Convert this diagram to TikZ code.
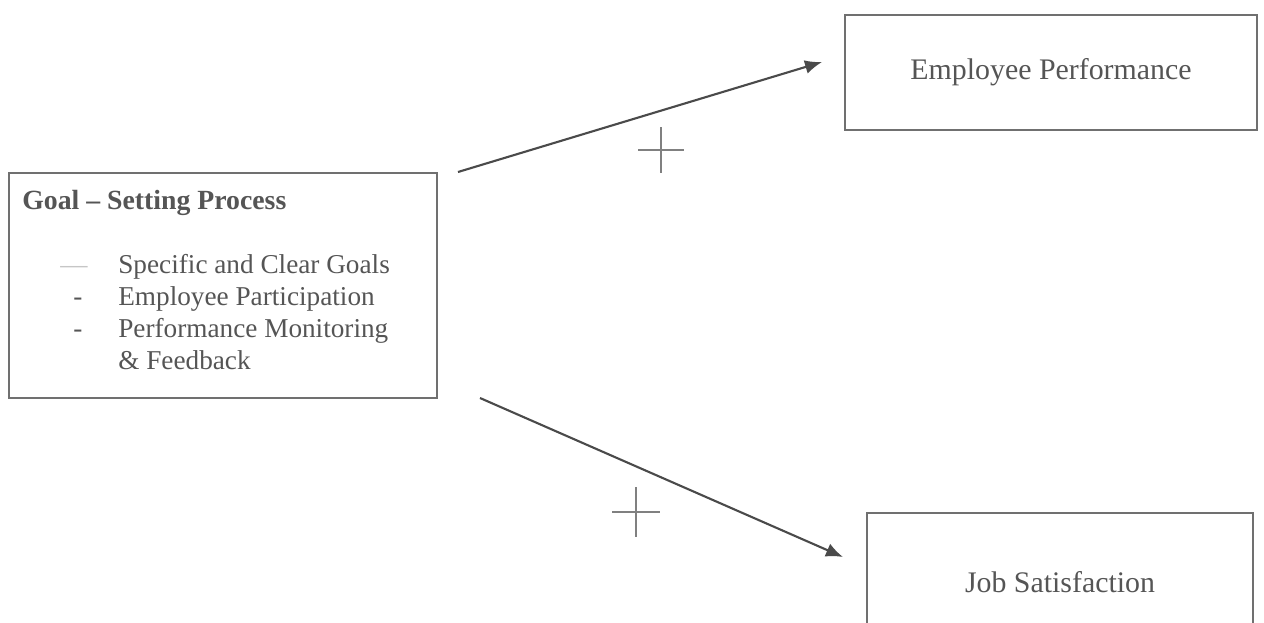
\documentclass[tikz,border=0pt]{standalone}
\usepackage{fontspec}
\setmainfont{Liberation Serif}
\usetikzlibrary{arrows.meta}
\definecolor{boxgray}{HTML}{707070}
\definecolor{textgray}{HTML}{555555}
\definecolor{arrowgray}{HTML}{4A4A4A}
\tikzset{
  boxnode/.style={draw=boxgray, line width=1pt, inner sep=0pt, text=textgray, font=\fontsize{17}{20}\selectfont},
  itemtext/.style={text=textgray, font=\fontsize{15.5}{18}\selectfont, anchor=base west, inner sep=0pt},
  causal/.style={draw=arrowgray, line width=1.2pt, -{Latex[length=3.4mm,width=2.8mm]}},
  plusmark/.style={draw=gray, line width=0.7pt},
}

\begin{document}
\begin{tikzpicture}[x=0.02cm,y=-0.02cm]
  \useasboundingbox (0,0) rectangle (1264,622);
  % goal setting box
  \node[boxnode, minimum width=8.56cm, minimum height=4.5cm] (goal) at (223,285.5) {};
  \node[itemtext, font=\bfseries\fontsize{15.8}{18}\selectfont] (title) at (22,209) {Goal – Setting Process};
  \node[itemtext, text=gray!45] (dash1) at (60,273) {—};
  \node[itemtext] (dash2) at (73,305) {-};
  \node[itemtext] (dash3) at (73,337) {-};
  \node[itemtext] (item1) at (118,273) {Specific and Clear Goals};
  \node[itemtext] (item2) at (118,305) {Employee Participation};
  \node[itemtext] (item3) at (118,337) {Performance Monitoring};
  \node[itemtext] (item4) at (118,369) {\& Feedback};
  % outcome boxes
  \node[boxnode, minimum width=8.24cm, minimum height=2.3cm] (perf) at (1051,72.5) {Employee Performance};
  % bottom edge runs off the page
  \node[boxnode, minimum width=7.72cm, minimum height=2.76cm] (job) at (1060,582) {Job Satisfaction};
  % arrows
  \coordinate (up-start) at (458,172);
  \coordinate (up-end) at (822,62);
  \coordinate (down-start) at (480,398);
  \coordinate (down-end) at (843,557);
  \draw[causal] (up-start) -- (up-end);
  \draw[causal] (down-start) -- (down-end);
  % plus signs
  \coordinate (plus-up) at (661,150);
  \coordinate (plus-down) at (636,512);
  \draw[plusmark] (plus-up) +(-23,0) -- +(23,0) (plus-up) +(0,-23) -- +(0,23);
  \draw[plusmark] (plus-down) +(-24,0) -- +(24,0) (plus-down) +(0,-25) -- +(0,25);
\end{tikzpicture}
\end{document}
